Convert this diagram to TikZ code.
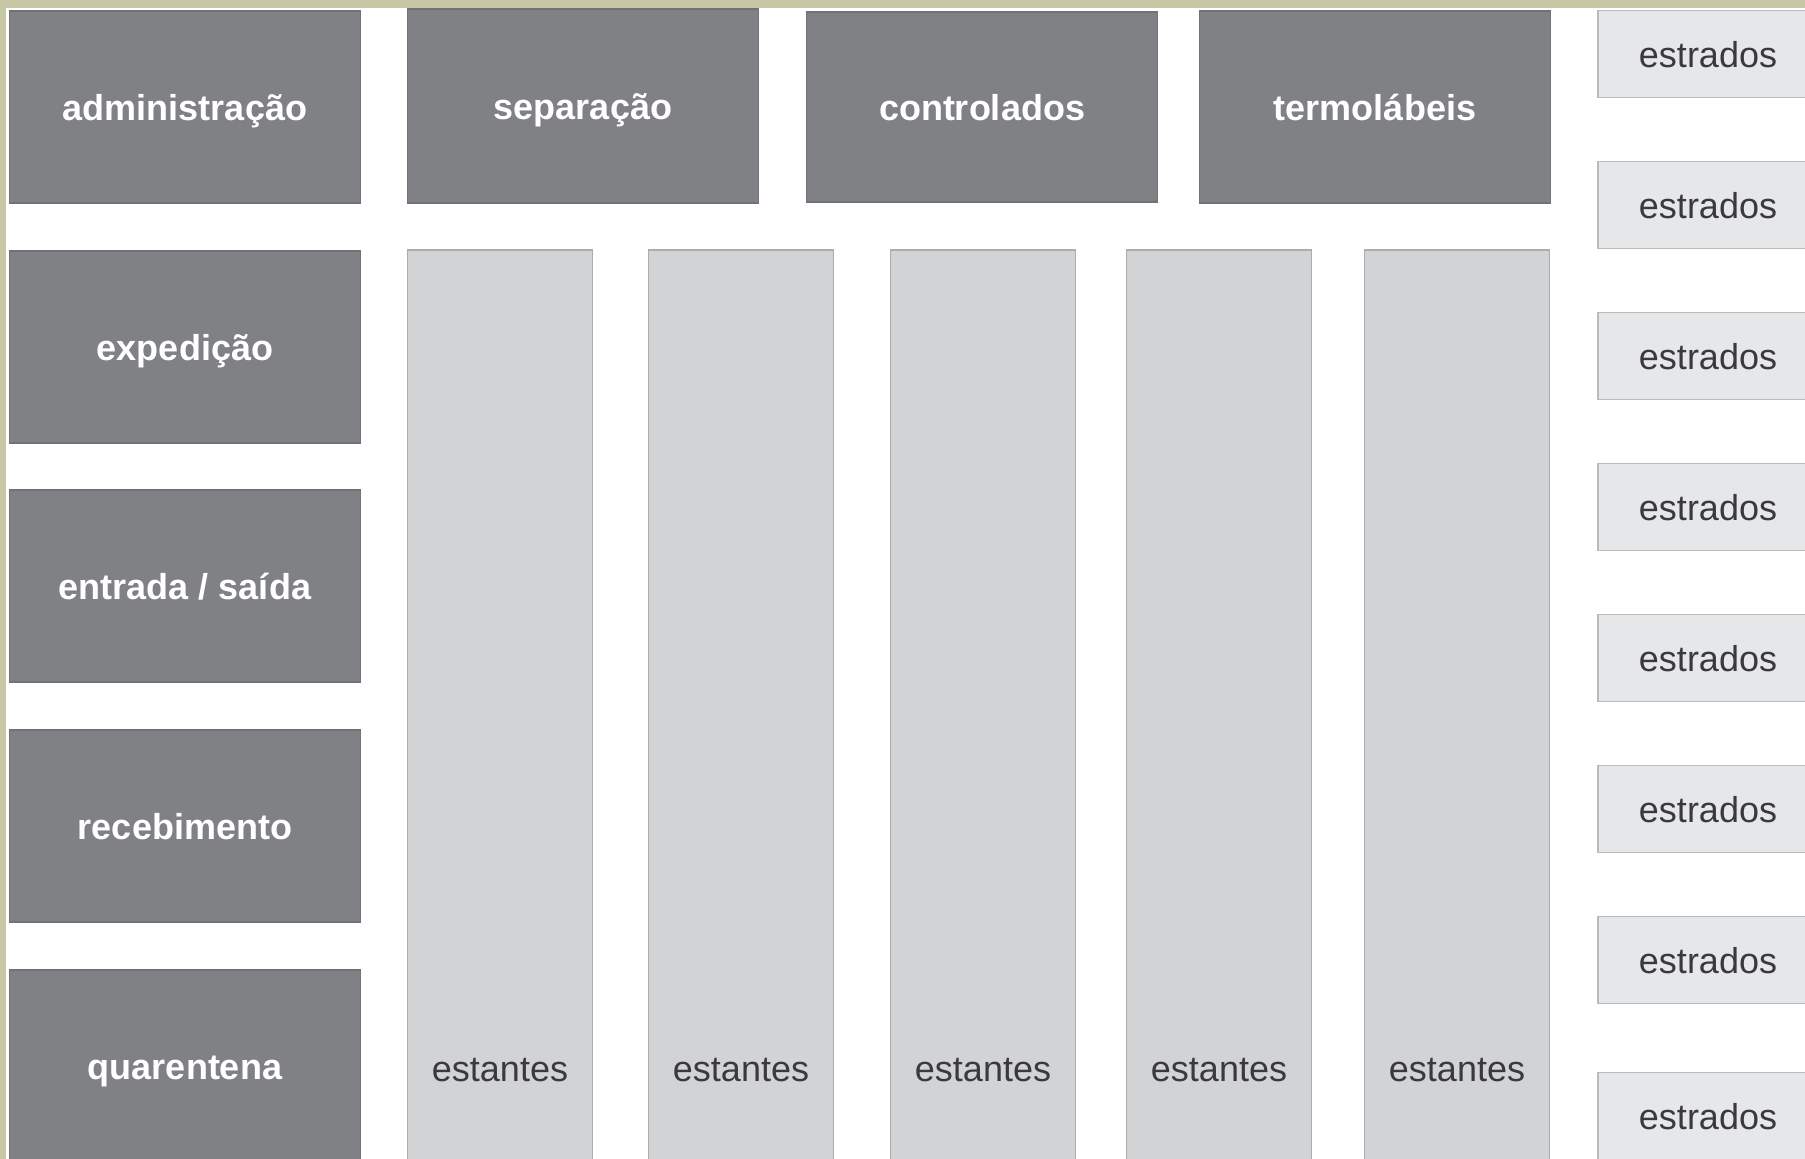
\documentclass[tikz,border=0pt]{standalone}
\usepackage{fontspec}
\setmainfont{Liberation Sans}
\definecolor{olive}{HTML}{C8C7A6}
\definecolor{darkfill}{HTML}{808185}
\definecolor{darkline}{HTML}{717276}
\definecolor{estfill}{HTML}{D2D3D5}
\definecolor{estline}{HTML}{ABACAE}
\definecolor{plfill}{HTML}{E6E7E8}
\definecolor{plline}{HTML}{B9BABC}
\definecolor{txtdark}{HTML}{3A3A3C}
\tikzset{
  fixtext/.style={text height=31pt, text depth=5pt},
  darkbox/.style={draw=darkline, fill=darkfill, line width=1.5pt, inner sep=0pt,
    minimum width=351pt, minimum height=192pt, text=white, fixtext,
    font=\bfseries\fontsize{36}{40}\selectfont},
  estbox/.style={draw=estline, fill=estfill, line width=1.5pt, inner sep=0pt,
    minimum width=185pt, minimum height=920pt},
  platbox/.style={draw=plline, fill=plfill, line width=1.5pt, inner sep=0pt,
    minimum width=220pt, minimum height=87pt, text=txtdark, fixtext,
    font=\fontsize{36}{40}\selectfont},
  lighttext/.style={text=txtdark, inner sep=0pt, fixtext, font=\fontsize{36}{40}\selectfont}
}
\begin{document}
\begin{tikzpicture}[x=1pt,y=-1pt]
\useasboundingbox (0,0) rectangle (1805,1159);
\clip (0,0) rectangle (1805,1159);
\fill[olive] (0,0) rectangle (1805,1159);
\fill[white] (6,8) rectangle (1805,1159);
% left column
\node[darkbox] (adm) at (185,107) {administração};
\node[darkbox] (exp) at (185,347) {expedição};
\node[darkbox] (es) at (185,586) {entrada / saída};
\node[darkbox] (rec) at (185,826) {recebimento};
\node[darkbox] (qua) at (185,1066) {quarentena};
% top row
\node[darkbox, minimum height=194pt] (sep) at (583,106) {separação};
\node[darkbox, minimum height=190pt] (ctl) at (982,107) {controlados};
\node[darkbox] (trm) at (1375,107) {termolábeis};
% estantes
\foreach \i/\x in {1/500,2/741,3/983,4/1219,5/1457}{
  \node[estbox] (est\i) at (\x,710) {};
  \node[lighttext] (estl\i) at (\x,1068) {estantes};
}
% estrados
\foreach \i/\y in {1/54,2/205,3/356,4/507,5/658,6/809,7/960,8/1116}{
  \node[platbox] (pl\i) at (1708,\y) {estrados};
}
\end{tikzpicture}
\end{document}
